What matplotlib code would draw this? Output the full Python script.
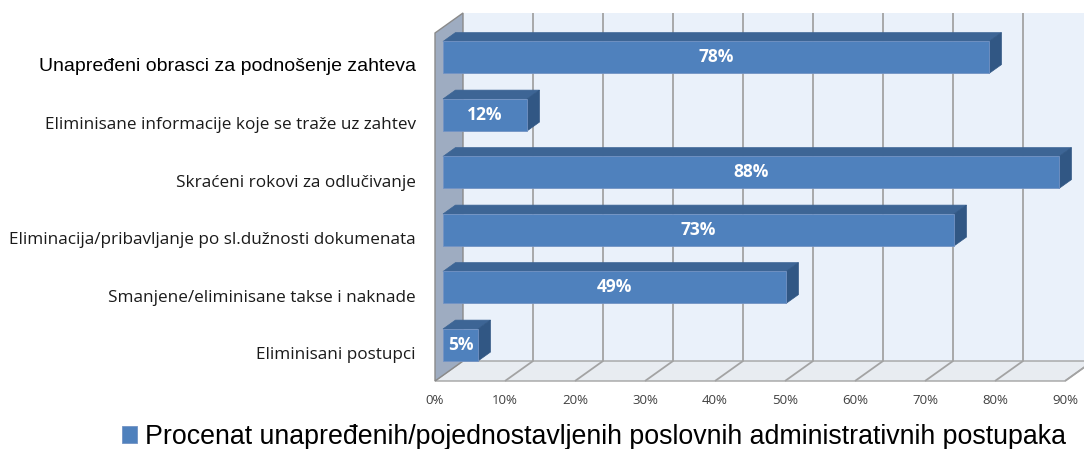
import matplotlib
matplotlib.use("Agg")
import matplotlib.pyplot as plt
from matplotlib.patches import Polygon

# ---- data ----
categories = [
    "Unapređeni obrasci za podnošenje zahteva",
    "Eliminisane informacije koje se traže uz zahtev",
    "Skraćeni rokovi za odlučivanje",
    "Eliminacija/pribavljanje po sl.dužnosti dokumenata",
    "Smanjene/eliminisane takse i naknade",
    "Eliminisani postupci",
]
values = [78, 12, 88, 73, 49, 5]
value_labels = ["78%", "12%", "88%", "73%", "49%", "5%"]
xticks = [0, 10, 20, 30, 40, 50, 60, 70, 80, 90]
xtick_labels = ["0%", "10%", "20%", "30%", "40%", "50%", "60%", "70%", "80%", "90%"]
series_name = "Procenat unapređenih/pojednostavljenih poslovnih administrativnih postupaka"

# ---- styling ----
FRONT = "#4f81bd"
TOP = "#3d6595"
SIDE = "#315784"
BACKWALL = "#eaf1fa"
FLOOR = "#e8ecf1"
LEFTWALL = "#9eacc1"
GRID = "#a3a3a3"

W, H = 1084, 449
fig = plt.figure(figsize=(W / 100, H / 100), dpi=100)
ax = fig.add_axes([0, 0, 1, 1])

PX_X0, PX_PER_PCT = 435.0, 7.0
PX_Y0, PX_PER_CAT = 350.7, 57.5
ax.set_xlim(-PX_X0 / PX_PER_PCT, (W - PX_X0) / PX_PER_PCT)
ax.set_ylim((PX_Y0 - H) / PX_PER_CAT, PX_Y0 / PX_PER_CAT)
ax.axis("off")

DX = 28 / PX_PER_PCT
DY = 20 / PX_PER_CAT


def P(x, y, f):
    return (x + f * DX, y + f * DY)


y_floor = (PX_Y0 - 381) / PX_PER_CAT
y_top = (PX_Y0 - 33) / PX_PER_CAT
xmax = xticks[-1]

# back wall
ax.add_patch(Polygon([P(0, y_floor, 1), P(xmax, y_floor, 1), P(xmax, y_top, 1), P(0, y_top, 1)],
                     closed=True, facecolor=BACKWALL, edgecolor="none", zorder=0))
# floor
ax.add_patch(Polygon([P(0, y_floor, 0), P(xmax, y_floor, 0), P(xmax, y_floor, 1), P(0, y_floor, 1)],
                     closed=True, facecolor=FLOOR, edgecolor=GRID, lw=1.0, zorder=0.5))
# left wall
ax.add_patch(Polygon([P(0, y_floor, 0), P(0, y_floor, 1), P(0, y_top, 1), P(0, y_top, 0)],
                     closed=True, facecolor=LEFTWALL, edgecolor="#8a8a8a", lw=1.0, zorder=0.6))
# gridlines
for k in xticks[1:]:
    xs = [P(k, y_floor, 0)[0], P(k, y_floor, 1)[0], P(k, y_top, 1)[0]]
    ys = [P(k, y_floor, 0)[1], P(k, y_floor, 1)[1], P(k, y_top, 1)[1]]
    ax.plot(xs, ys, color=GRID, lw=1.3, zorder=0.7, solid_capstyle="butt")

# bars
n = len(values)
pos = [n - 1 - i for i in range(n)]
fb0, fb1 = 0.286, 0.73
h = 32 / PX_PER_CAT
bars = ax.barh([p + fb0 * DY for p in pos], values, left=fb0 * DX, height=h,
               color=FRONT, edgecolor="#7393c4", lw=0.6, zorder=3, label=series_name)
for p, v in zip(pos, values):
    yt, yb = p + h / 2, p - h / 2
    ax.add_patch(Polygon([P(0, yt, fb0), P(v, yt, fb0), P(v, yt, fb1), P(0, yt, fb1)],
                         closed=True, facecolor=TOP, edgecolor=TOP, lw=0.5, zorder=2))
    ax.add_patch(Polygon([P(v, yb, fb0), P(v, yt, fb0), P(v, yt, fb1), P(v, yb, fb1)],
                         closed=True, facecolor=SIDE, edgecolor=SIDE, lw=0.5, zorder=2))

for p, v, lab in zip(pos, values, value_labels):
    cx, cy = P(v / 2, p, fb0)
    ax.text(cx, cy, lab, ha="center", va="center", color="white", fontsize=12.5,
            fontweight="bold", family="Open Sans", zorder=5)

# category labels
lab_x = (416 - PX_X0) / PX_PER_PCT
for i, (p, c) in enumerate(zip(pos, categories)):
    if i == 0:
        ax.text(lab_x, p - 0.06, c, ha="right", va="center", fontsize=14,
                family="Liberation Sans", color="black")
    else:
        ax.text(lab_x, p - 0.075, c, ha="right", va="center", fontsize=12.3,
                family="Open Sans", color="#1a1a1a")

# x tick labels
ytl = (PX_Y0 - 400) / PX_PER_CAT
for t, lab in zip(xticks, xtick_labels):
    ax.text(t, ytl, lab, ha="center", va="center", fontsize=9.5, family="Open Sans", color="#404040")

# legend
leg = fig.legend(handles=[bars], labels=[series_name], loc="center",
                 bbox_to_anchor=(594 / W, 1 - 437 / H), frameon=False,
                 prop={"family": "Liberation Sans", "size": 19.3},
                 handlelength=0.55, handleheight=0.55, handletextpad=0.3,
                 borderpad=0, borderaxespad=0)

fig.savefig("out.png", dpi=100)
